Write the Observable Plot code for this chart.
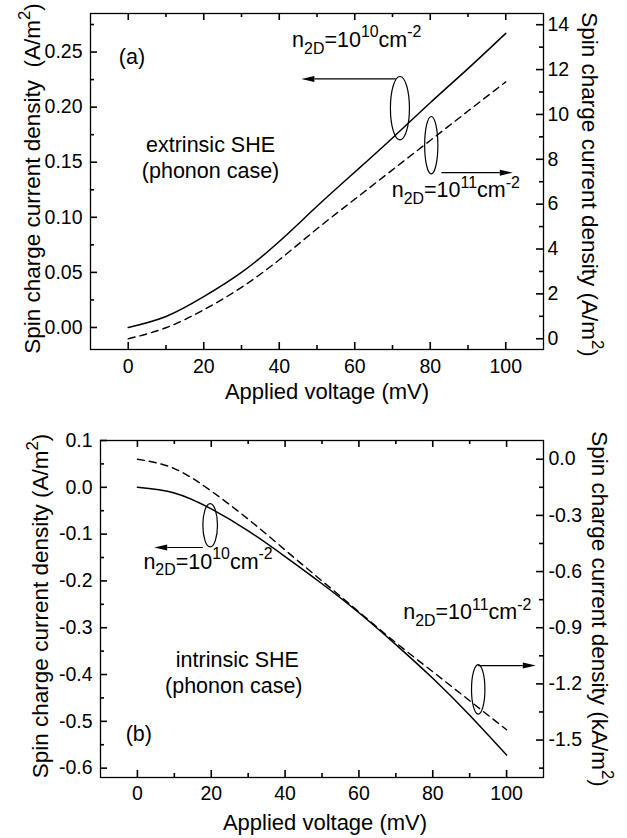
<!DOCTYPE html>
<html>
<head>
<meta charset="utf-8">
<script src="https://cdn.jsdelivr.net/npm/d3@7"></script>
<script src="https://cdn.jsdelivr.net/npm/@observablehq/plot@0.6"></script>
<style>
  html, body { margin: 0; padding: 0; background: #fff; }
  #chart svg { display: block; }
</style>
</head>
<body>
<div id="chart"></div>
<script>
// ---------- data ----------
const voltage = [0, 10, 20, 30, 40, 50, 60, 70, 80, 90, 100];           // mV
// (a) extrinsic SHE
const extrinsicN1e10 = [0, 0.010, 0.028, 0.050, 0.078, 0.110, 0.141, 0.172, 0.204, 0.235, 0.267]; // A/m^2 (left)
const extrinsicN1e11 = [0, 0.49, 1.29, 2.29, 3.52, 4.90, 6.22, 7.53, 8.84, 10.15, 11.45];         // A/m^2 (right)
// (b) intrinsic SHE
const intrinsicN1e10 = [0, -0.012, -0.046, -0.093, -0.148, -0.206, -0.268, -0.336, -0.408, -0.487, -0.572]; // A/m^2 (left)
const intrinsicN1e11 = [0, -0.05, -0.17, -0.32, -0.485, -0.65, -0.815, -0.98, -1.135, -1.29, -1.445];       // kA/m^2 (right)

// ticks
const xTicks = [0, 20, 40, 60, 80, 100];
const xMinor = [10, 30, 50, 70, 90];
const leftTicksA = [0, 0.05, 0.10, 0.15, 0.20, 0.25];
const leftMinorA = [0.025, 0.075, 0.125, 0.175, 0.225, 0.275];
const rightTicksA = [0, 2, 4, 6, 8, 10, 12, 14];
const rightMinorA = [1, 3, 5, 7, 9, 11, 13];
const leftTicksB = [0.1, 0.0, -0.1, -0.2, -0.3, -0.4, -0.5, -0.6];
const leftMinorB = [0.05, -0.05, -0.15, -0.25, -0.35, -0.45, -0.55];
const rightTicksB = [0.0, -0.3, -0.6, -0.9, -1.2, -1.5];
const rightMinorB = [-0.15, -0.45, -0.75, -1.05, -1.35, -1.65];

// labels
const xTitle = "Applied voltage (mV)";
const leftTitleA = "Spin charge current density\u00A0 (A/m^{2})";
const rightTitleA = "Spin charge current density (A/m^{2})";
const leftTitleB = "Spin charge current density (A/m^{2})";
const rightTitleB = "Spin charge current density (kA/m^{2})";

// ---------- helpers ----------
const FONT = "Liberation Sans, Arial, Helvetica, sans-serif";
const SVGNS = "http://www.w3.org/2000/svg";
const WIDTH = 627, MARGIN_RIGHT = 84;

function hyphen(s) { return s.replace("\u2212", "-"); }

function svgLine(g, x1, y1, x2, y2, w) {
  const line = document.createElementNS(SVGNS, "line");
  line.setAttribute("x1", x1); line.setAttribute("y1", y1);
  line.setAttribute("x2", x2); line.setAttribute("y2", y2);
  line.setAttribute("stroke", "#000");
  line.setAttribute("stroke-width", w);
  g.appendChild(line);
}

function shapesMark(ellipses, arrows) {
  return (index, scales) => {
    const g = document.createElementNS(SVGNS, "g");
    g.setAttribute("fill", "none");
    g.setAttribute("stroke", "black");
    for (const e of ellipses) {
      const el = document.createElementNS(SVGNS, "ellipse");
      el.setAttribute("cx", scales.x(e.x));
      el.setAttribute("cy", scales.y(e.y));
      el.setAttribute("rx", e.rx);
      el.setAttribute("ry", e.ry);
      el.setAttribute("stroke-width", 1.2);
      g.appendChild(el);
    }
    for (const a of arrows) {
      const x1 = scales.x(a.x1), y1 = scales.y(a.y1), x2 = scales.x(a.x2), y2 = scales.y(a.y2);
      const dx = x2 - x1, dy = y2 - y1, len = Math.hypot(dx, dy), ux = dx / len, uy = dy / len;
      const hl = 13, hw = 3;
      const bx = x2 - ux * hl, by = y2 - uy * hl;
      svgLine(g, x1, y1, bx, by, 1.1);
      const head = document.createElementNS(SVGNS, "path");
      head.setAttribute("d", `M${x2},${y2}L${bx - uy * hw},${by + ux * hw}L${bx + uy * hw},${by - ux * hw}Z`);
      head.setAttribute("fill", "black");
      head.setAttribute("stroke", "none");
      g.appendChild(head);
    }
    return g;
  };
}

function richify(svg) {
  const re = /([_^])\{([^}]*)\}|([^_^]+)/g;
  for (const t of svg.querySelectorAll("text")) {
    const s = t.textContent;
    if (!/[_^]\{/.test(s)) continue;
    const base = parseFloat(t.closest("[font-size]")?.getAttribute("font-size")) || 21.5;
    t.textContent = "";
    let shift = 0;
    for (const m of s.matchAll(re)) {
      const ts = document.createElementNS(SVGNS, "tspan");
      let target = 0;
      if (m[1] === "_") { target = 0.32 * base; ts.textContent = m[2]; ts.setAttribute("font-size", 0.74 * base); }
      else if (m[1] === "^") { target = -0.44 * base; ts.textContent = m[2]; ts.setAttribute("font-size", 0.74 * base); }
      else ts.textContent = m[3];
      if (target - shift !== 0) ts.setAttribute("dy", target - shift);
      shift = target;
      t.appendChild(ts);
    }
  }
}

function panel(cfg) {
  const toLeft = d3.scaleLinear().domain(cfg.rightDomain).range(cfg.yDomain);
  const data = voltage.map((v, i) => ({v, left: cfg.left[i], right: cfg.right[i]}));
  const start = cfg.notes.filter(d => d.anchor === "start");
  const middle = cfg.notes.filter(d => d.anchor === "middle");
  const rT = cfg.rightTicks.map(toLeft), rM = cfg.rightMinor.map(toLeft);
  const fw = WIDTH - cfg.marginLeft - MARGIN_RIGHT;
  const fh = cfg.height - cfg.marginTop - cfg.marginBottom;
  const id = d => d;
  const tick = {stroke: "black", strokeWidth: 1.6};
  return Plot.plot({
    width: WIDTH,
    height: cfg.height,
    marginLeft: cfg.marginLeft,
    marginRight: MARGIN_RIGHT,
    marginTop: cfg.marginTop,
    marginBottom: cfg.marginBottom,
    x: {domain: [-10, 110], label: null},
    y: {domain: cfg.yDomain, label: null},
    style: {fontFamily: FONT},
    marks: [
      Plot.frame({stroke: "black", strokeWidth: 1.3}),
      // inward ticks as short rules (the same technique that rendered in testing)
      Plot.ruleX(xTicks, {x: id, insetTop: fh - 7, ...tick}),
      Plot.ruleX(xMinor, {x: id, insetTop: fh - 4, ...tick}),
      Plot.ruleX(xTicks, {x: id, insetBottom: fh - 7, ...tick}),
      Plot.ruleX(xMinor, {x: id, insetBottom: fh - 4, ...tick}),
      Plot.ruleY(cfg.leftTicks, {y: id, insetRight: fw - 7, ...tick}),
      Plot.ruleY(cfg.leftMinor, {y: id, insetRight: fw - 4, ...tick}),
      Plot.ruleY(rT, {y: id, insetLeft: fw - 7, ...tick}),
      Plot.ruleY(rM, {y: id, insetLeft: fw - 4, ...tick}),
      // tick labels
      Plot.axisX({ticks: xTicks, anchor: "bottom", tickSize: 0, tickPadding: cfg.xPad, tickFormat: d => String(d), fontSize: 19.5}),
      Plot.axisY({ticks: cfg.leftTicks, anchor: "left", tickSize: 0, tickPadding: 8,
        tickFormat: d => hyphen(d.toFixed(cfg.leftDigits)), fontSize: 19.5}),
      Plot.axisY({ticks: rT, anchor: "right", tickSize: 0, tickPadding: cfg.rPad,
        tickFormat: d => { let s = toLeft.invert(d).toFixed(cfg.rightDigits); if (/^-0(\.0+)?$/.test(s)) s = s.slice(1); return s; },
        fontSize: 19.5}),
      // curves
      Plot.line(data, {x: "v", y: "left", curve: "natural", stroke: "black", strokeWidth: 1.5}),
      Plot.line(data, {x: "v", y: d => toLeft(d.right), curve: "natural", stroke: "black", strokeWidth: 1.4, strokeDasharray: "7,5"}),
      // annotations
      shapesMark(cfg.ellipses, cfg.arrows),
      Plot.text(start, {x: "x", y: "y", text: "text", textAnchor: "start", lineAnchor: "bottom", fontSize: 21.5, fill: "black"}),
      Plot.text(middle, {x: "x", y: "y", text: "text", textAnchor: "middle", lineAnchor: "bottom", fontSize: 21.5, fill: "black"}),
      // axis titles
      Plot.text([xTitle], {frameAnchor: "bottom", dx: cfg.xTitleDx, dy: cfg.xTitleDy, lineAnchor: "bottom", textAnchor: "middle", fontSize: 22, fill: "black"}),
      Plot.text([cfg.leftTitle], {frameAnchor: "left", rotate: -90, dx: cfg.leftTitleDx, dy: cfg.leftTitleDy, textAnchor: "middle", lineAnchor: "middle", fontSize: 22.5, fill: "black"}),
      Plot.text([cfg.rightTitle], {frameAnchor: "right", rotate: 90, dx: cfg.rightTitleDx, dy: cfg.rightTitleDy, textAnchor: "middle", lineAnchor: "middle", fontSize: 22.5, fill: "black"})
    ]
  });
}

const svgA = panel({
  height: 420, marginLeft: 90, marginTop: 13, marginBottom: 71,
  yDomain: [-0.02, 0.285], rightDomain: [-0.48, 14.5],
  left: extrinsicN1e10, right: extrinsicN1e11,
  leftTicks: leftTicksA, leftMinor: leftMinorA, rightTicks: rightTicksA, rightMinor: rightMinorA,
  leftDigits: 2, rightDigits: 0, xPad: 10, rPad: 4,
  leftTitle: leftTitleA, rightTitle: rightTitleA,
  xTitleDx: 10, xTitleDy: 49,
  leftTitleDx: -57.6, leftTitleDy: -3, rightTitleDx: 45.6, rightTitleDy: 3,
  notes: [
    {x: -2.5, y: 0.2394, text: "(a)", anchor: "start"},
    {x: 21.8, y: 0.159, text: "extrinsic SHE", anchor: "middle"},
    {x: 21.8, y: 0.1356, text: "(phonon case)", anchor: "middle"},
    {x: 43.4, y: 0.2549, text: "n_{2D}=10^{10}cm^{-2}", anchor: "start"},
    {x: 69.8, y: 0.1183, text: "n_{2D}=10^{11}cm^{-2}", anchor: "start"}
  ],
  ellipses: [
    {x: 72.1, y: 0.1986, rx: 9.5, ry: 31.7},
    {x: 80.4, y: 0.165, rx: 6.6, ry: 28.7}
  ],
  arrows: [
    {x1: 71.0, y1: 0.2252, x2: 46.0, y2: 0.2252},
    {x1: 83.1, y1: 0.1401, x2: 102.0, y2: 0.1401}
  ]
});

const svgB = panel({
  height: 418, marginLeft: 100, marginTop: 20, marginBottom: 61,
  yDomain: [-0.62, 0.1], rightDomain: [-1.7, 0.1],
  left: intrinsicN1e10, right: intrinsicN1e11,
  leftTicks: leftTicksB, leftMinor: leftMinorB, rightTicks: rightTicksB, rightMinor: rightMinorB,
  leftDigits: 1, rightDigits: 1, xPad: 9, rPad: 5,
  leftTitle: leftTitleB, rightTitle: rightTitleB,
  xTitleDx: 3, xTitleDy: 52.3,
  leftTitleDx: -60.2, leftTitleDy: -3, rightTitleDx: 55.6, rightTitleDy: 0,
  notes: [
    {x: -3.17, y: -0.5428, text: "(b)", anchor: "start"},
    {x: 27.06, y: -0.3842, text: "intrinsic SHE", anchor: "middle"},
    {x: 26.1, y: -0.4393, text: "(phonon case)", anchor: "middle"},
    {x: 1.62, y: -0.1736, text: "n_{2D}=10^{10}cm^{-2}", anchor: "start"},
    {x: 72.0, y: -0.282, text: "n_{2D}=10^{11}cm^{-2}", anchor: "start"}
  ],
  ellipses: [
    {x: 19.84, y: -0.0821, rx: 7.3, ry: 21.7},
    {x: 92.45, y: -0.4328, rx: 6.7, ry: 24.7}
  ],
  arrows: [
    {x1: 17.86, y1: -0.1298, x2: 4.68, y2: -0.1298},
    {x1: 92.45, y1: -0.382, x2: 108.06, y2: -0.382}
  ]
});

const root = document.getElementById("chart");
root.appendChild(svgA);
root.appendChild(svgB);
richify(svgA);
richify(svgB);
</script>
</body>
</html>
